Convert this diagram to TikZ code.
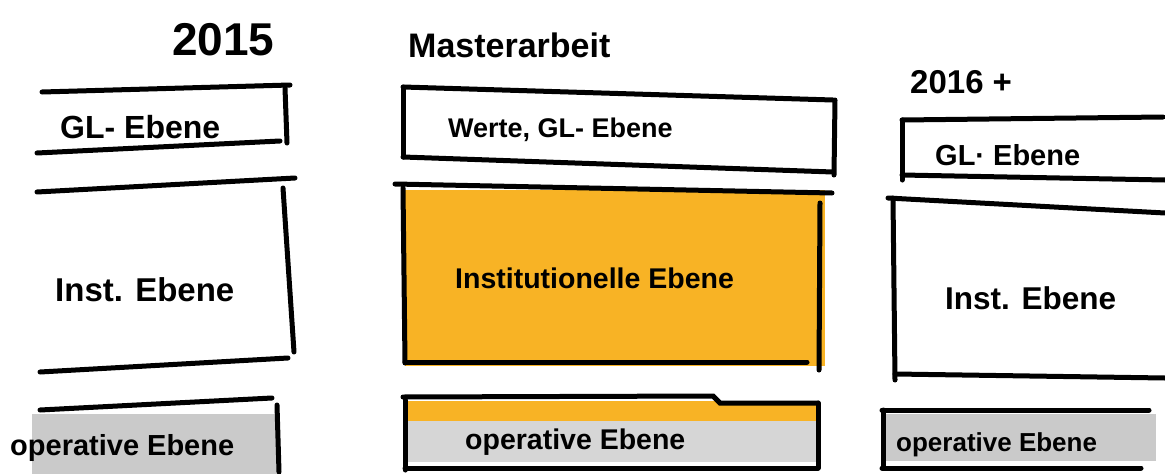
\documentclass[tikz,border=0pt]{standalone}
\usepackage{fontspec}
\setmainfont{Liberation Sans}
\definecolor{mkorange}{HTML}{F8B325}
\definecolor{mkgray}{HTML}{CACACA}
\definecolor{mkgraylt}{HTML}{D6D6D6}
\tikzset{
  mk/.style={line width=5pt, line cap=round, black},
  lbl/.style={anchor=west, inner sep=0pt, font=\bfseries},
}
\newcommand{\fsz}[1]{\fontsize{#1}{#1}\selectfont}
\begin{document}
\begin{tikzpicture}[x=1pt,y=-1pt]
\fill[white] (0,0) rectangle (1165,474);
\useasboundingbox (0,0) rectangle (1165,474);

% ---------- fills ----------
\fill[mkorange] (405,190) rectangle (825,366);
\fill[mkorange] (405,401) rectangle (818,421);
\fill[mkgraylt] (405,421) rectangle (818,462);
\fill[mkgray] (32,414) rectangle (280,474);
\fill[mkgray] (885,414) rectangle (1156,461);

% ---------- left column (2015) ----------
\draw[mk] (42,92) -- (290,85);
\draw[mk] (285,88) -- (287,143);
\draw[mk] (37,153) -- (280,141);
\draw[mk] (37,192) -- (295,178);
\draw[mk] (283,188) -- (294,352);
\draw[mk] (40,372) -- (288,358);
\draw[mk] (40,410) -- (272,398);
\draw[mk] (277,405) -- (279,472);

% ---------- middle column ----------
\draw[mk] (403,87) -- (833,100);
\draw[mk] (403,87) -- (403,157);
\draw[mk] (403,157) -- (833,172);
\draw[mk] (835,100) -- (834,175);
\draw[mk] (395,184) -- (832,193);
\draw[mk] (403,188) -- (405,363);
\draw[mk] (820,203) -- (819,370);
\draw[mk] (405,362) -- (807,362);
\draw[mk] (403,397) -- (713,396) -- (720,403) -- (818,403);
\draw[mk] (405,400) -- (405,470);
\draw[mk] (818,403) -- (818,468);
\draw[mk] (405,468) -- (818,468);

% ---------- right column (2016 +) ----------
\draw[mk] (902,120) -- (1163,117);
\draw[mk] (902,120) -- (902,180);
\draw[mk] (902,175) -- (1165,180);
\draw[mk] (888,198) -- (1165,213);
\draw[mk] (893,198) -- (895,380);
\draw[mk] (895,374) -- (1165,378);
\draw[mk] (882,410) -- (1149,410);
\draw[mk] (883,410) -- (883,468);
\draw[mk] (882,468) -- (1141,468);

% ---------- texts ----------
\node[lbl, font=\bfseries\fsz{46}] (t2015) at (172,40) {2015};
\node[lbl, font=\bfseries\fsz{34}] (tma) at (408,45) {Masterarbeit};
\node[lbl, font=\bfseries\fsz{33}] (t2016) at (910,82) {2016 +};

\node[lbl, font=\bfseries\fsz{32}] (lgl) at (60,127) {GL- Ebene};
\node[lbl, font=\bfseries\fsz{33}] (linst) at (55,290) {Inst. Ebene};
\node[lbl, font=\bfseries\fsz{29}] (lop) at (10,448) {operative Ebene};

\node[lbl, font=\bfseries\fsz{27}] (mgl) at (448,130) {Werte, GL- Ebene};
\node[lbl, font=\bfseries\fsz{28.5}] (minst) at (455,278) {Institutionelle Ebene};
\node[lbl, font=\bfseries\fsz{28.5}] (mop) at (465,442) {operative Ebene};

\node[lbl, font=\bfseries\fsz{29}] (rgl) at (935,155) {GL· Ebene};
\node[lbl, font=\bfseries\fsz{31.5}] (rinst) at (945,298) {Inst. Ebene};
\node[lbl, font=\bfseries\fsz{26}] (rop) at (896,445) {operative Ebene};
\end{tikzpicture}
\end{document}
